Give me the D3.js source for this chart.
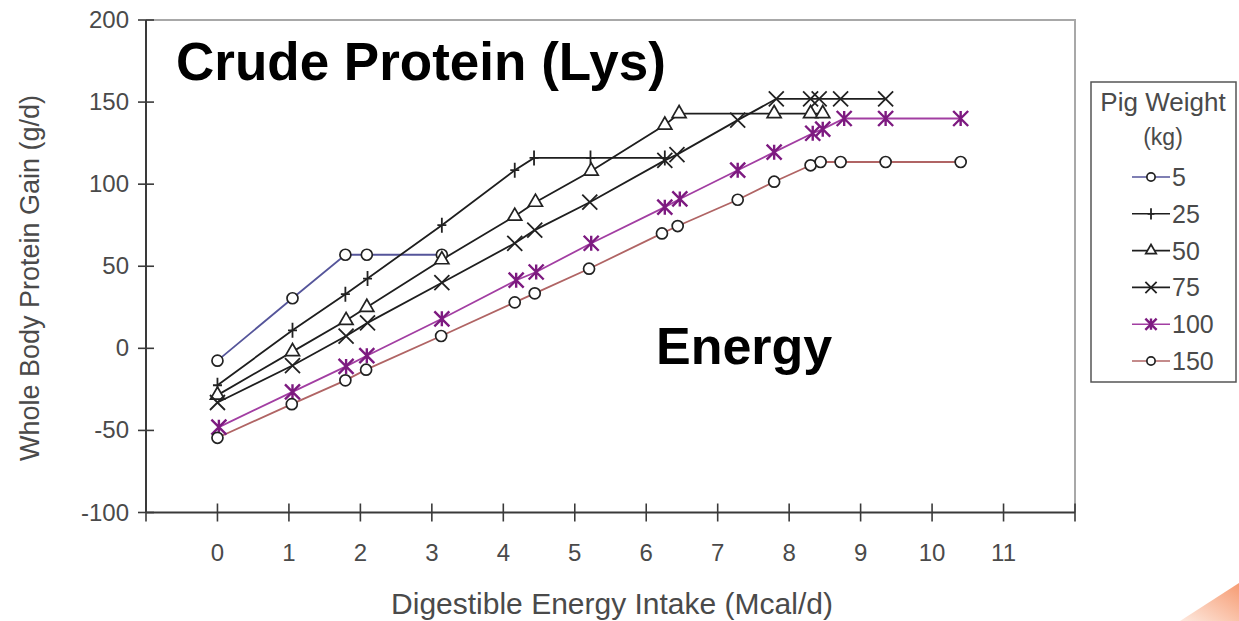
<!DOCTYPE html>
<html>
<head>
<meta charset="utf-8">
<script src="https://cdn.jsdelivr.net/npm/d3@7"></script>
<style>
  body { margin: 0; background: #fff; }
  svg { display: block; font-family: "Liberation Sans", Arial, sans-serif; }
</style>
</head>
<body>
<div id="chart"></div>
<script>
// values
var weights = ["5", "25", "50", "75", "100", "150"]
var x5 = [0, 1.05, 1.79, 2.09, 3.14]
var y5 = [-7.5, 30.5, 57, 57, 57]
var x25 = [0, 1.05, 1.79, 2.1, 3.14, 4.16, 4.43, 5.22, 6.26]
var y25 = [-22.5, 11, 33, 42.5, 75, 108.5, 116, 116, 116]
var x50 = [0, 1.05, 1.8, 2.09, 3.14, 4.16, 4.45, 5.23, 6.26, 6.46, 7.79, 8.3, 8.47]
var y50 = [-28.5, -2, 17, 25, 54, 80.5, 89, 108, 136, 143, 143, 143, 143]
var x75 = [0, 1.05, 1.8, 2.1, 3.14, 4.16, 4.44, 5.21, 6.26, 6.43, 7.28, 7.82, 8.3, 8.42, 8.72, 9.35]
var y75 = [-33, -10.5, 7.5, 15.5, 40, 64, 72, 89, 114.5, 118, 139, 152, 152, 152, 152, 152]
var x100 = [0.02, 1.05, 1.8, 2.09, 3.14, 4.18, 4.46, 5.23, 6.26, 6.47, 7.28, 7.79, 8.33, 8.47, 8.77, 9.35, 10.4]
var y100 = [-48, -26.5, -11, -4.5, 18, 41.5, 46.5, 64, 86, 91, 108.5, 119.5, 131, 133.5, 140, 140, 140]
var x150 = [0, 1.04, 1.79, 2.08, 3.13, 4.16, 4.44, 5.2, 6.22, 6.44, 7.28, 7.79, 8.3, 8.44, 8.72, 9.35, 10.4]
var y150 = [-54.5, -34, -19.5, -13, 7.5, 28, 33.5, 48.5, 70, 74.5, 90.5, 101.5, 111.5, 113.5, 113.5, 113.5, 113.5]
var xTickValues = d3.range(-1, 13)
var xTickLabels = d3.range(0, 12)
var yTickValues = [-100, -50, 0, 50, 100, 150, 200]

var seriesX = [x5, x25, x50, x75, x100, x150]
var seriesY = [y5, y25, y50, y75, y100, y150]
var lineColors = ["#55559a", "#1e1e1e", "#1e1e1e", "#1e1e1e", "#a23ea2", "#b06464"]
var markerColors = ["#222", "#222", "#222", "#222", "#7d1a80", "#222"]
var markerTypes = ["circle", "plus", "triangle", "cross", "star", "circle"]

var width = 1239, height = 621
var svg = d3.select("#chart").append("svg").attr("width", width).attr("height", height)

var x = d3.scaleLinear().domain([-1, 12]).range([146, 1075])
var y = d3.scaleLinear().domain([-100, 200]).range([512.5, 20])

// plot border (top, right)
svg.append("path")
    .attr("d", "M" + x(-1) + "," + y(200) + "H" + x(12) + "V" + y(-100))
    .attr("fill", "none").attr("stroke", "#a8a8a8").attr("stroke-width", 2)

// axes with ticks crossing the line
var axisColor = "#3a3a3a"
svg.append("line").attr("x1", x(-1)).attr("x2", x(12)).attr("y1", y(-100)).attr("y2", y(-100))
    .attr("stroke", axisColor).attr("stroke-width", 2)
svg.append("line").attr("x1", x(-1)).attr("x2", x(-1)).attr("y1", y(200)).attr("y2", y(-100))
    .attr("stroke", axisColor).attr("stroke-width", 2)

svg.selectAll(".xtick").data(xTickValues).enter().append("line")
    .attr("x1", function(d){return x(d)}).attr("x2", function(d){return x(d)})
    .attr("y1", y(-100) - 9).attr("y2", y(-100) + 9)
    .attr("stroke", axisColor).attr("stroke-width", 1.6)
svg.selectAll(".ytick").data(yTickValues).enter().append("line")
    .attr("x1", x(-1) - 8).attr("x2", x(-1) + 8)
    .attr("y1", function(d){return y(d)}).attr("y2", function(d){return y(d)})
    .attr("stroke", axisColor).attr("stroke-width", 1.6)

svg.selectAll(".xlab").data(xTickLabels).enter().append("text")
    .attr("x", function(d){return x(d)}).attr("y", 561)
    .attr("text-anchor", "middle").attr("font-size", 24).attr("fill", "#4a4a4a")
    .text(function(d){return d})
svg.selectAll(".ylab").data(yTickValues).enter().append("text")
    .attr("x", 129).attr("y", function(d){return y(d) + 8})
    .attr("text-anchor", "end").attr("font-size", 24).attr("fill", "#4a4a4a")
    .text(function(d){return d})

svg.append("text").attr("x", 612).attr("y", 614).attr("text-anchor", "middle")
    .attr("font-size", 30).attr("fill", "#4a4a4a").text("Digestible Energy Intake (Mcal/d)")
svg.append("text").attr("transform", "translate(39,278) rotate(-90)").attr("text-anchor", "middle")
    .attr("font-size", 27).attr("fill", "#4a4a4a").text("Whole Body Protein Gain (g/d)")

svg.append("text").attr("x", 176).attr("y", 80).attr("font-size", 53).attr("font-weight", "bold")
    .attr("fill", "#000").text("Crude Protein (Lys)")
svg.append("text").attr("x", 656).attr("y", 364).attr("font-size", 52).attr("font-weight", "bold")
    .attr("fill", "#000").text("Energy")

function drawMarker(g, type, cx, cy, color, s) {
    if (type == "circle") {
        g.append("circle").attr("cx", cx).attr("cy", cy).attr("r", 5.5 * s)
            .attr("fill", "#fff").attr("stroke", color).attr("stroke-width", 1.7)
    } else if (type == "triangle") {
        g.append("path").attr("transform", "translate(" + cx + "," + cy + ")")
            .attr("d", d3.symbol().type(d3.symbolTriangle).size(85 * s * s)())
            .attr("fill", "#fff").attr("stroke", color).attr("stroke-width", 1.7)
    } else {
        var h = 7.5 * s
        var d = ""
        if (type == "plus") d = "M" + cx + "," + (cy - h) + "V" + (cy + h) + "M" + (cx - h * 0.6) + "," + cy + "H" + (cx + h * 0.6)
        if (type == "cross" || type == "star") d = "M" + (cx - h) + "," + (cy - h) + "L" + (cx + h) + "," + (cy + h) + "M" + (cx - h) + "," + (cy + h) + "L" + (cx + h) + "," + (cy - h)
        if (type == "star") d += "M" + cx + "," + (cy - h) + "V" + (cy + h)
        g.append("path").attr("d", d).attr("fill", "none").attr("stroke", color)
            .attr("stroke-width", type == "star" ? 2.4 : 1.8)
    }
}

var line = d3.line().x(function(d){return x(d[0])}).y(function(d){return y(d[1])})

for (var i = 0; i < weights.length; i++) {
    var pts = seriesX[i].map(function(v, j){return [v, seriesY[i][j]]})
    svg.append("path").datum(pts).attr("d", line)
        .attr("fill", "none").attr("stroke", lineColors[i]).attr("stroke-width", 1.8)
}
for (var i = 0; i < weights.length; i++) {
    var g = svg.append("g")
    for (var j = 0; j < seriesX[i].length; j++) {
        drawMarker(g, markerTypes[i], x(seriesX[i][j]), y(seriesY[i][j]), markerColors[i], 1)
    }
}

// legend
var lg = svg.append("g")
lg.append("rect").attr("x", 1091).attr("y", 82).attr("width", 145).attr("height", 300)
    .attr("fill", "#fff").attr("stroke", "#555").attr("stroke-width", 1.5)
lg.append("text").attr("x", 1163).attr("y", 111).attr("text-anchor", "middle")
    .attr("font-size", 26).attr("fill", "#4a4a4a").text("Pig Weight")
lg.append("text").attr("x", 1163).attr("y", 145).attr("text-anchor", "middle")
    .attr("font-size", 23).attr("fill", "#4a4a4a").text("(kg)")
for (var i = 0; i < weights.length; i++) {
    var ly = 177 + i * 36.8
    lg.append("line").attr("x1", 1132).attr("x2", 1170).attr("y1", ly).attr("y2", ly)
        .attr("stroke", lineColors[i]).attr("stroke-width", 1.6)
    drawMarker(lg, markerTypes[i], 1151, ly, markerColors[i], 0.75)
    lg.append("text").attr("x", 1172).attr("y", ly + 9).attr("font-size", 25)
        .attr("fill", "#4a4a4a").text(weights[i])
}

// faint orange corner shape from the source image
var grad = svg.append("defs").append("linearGradient").attr("id", "og")
    .attr("x1", "0").attr("x2", "1").attr("y1", "1").attr("y2", "0")
grad.append("stop").attr("offset", "0").attr("stop-color", "#fde3d6")
grad.append("stop").attr("offset", "1").attr("stop-color", "#f4824f")
svg.append("path").attr("d", "M1180,621 L1239,583 L1239,621 Z").attr("fill", "url(#og)").attr("opacity", 0.8)
</script>
</body>
</html>
